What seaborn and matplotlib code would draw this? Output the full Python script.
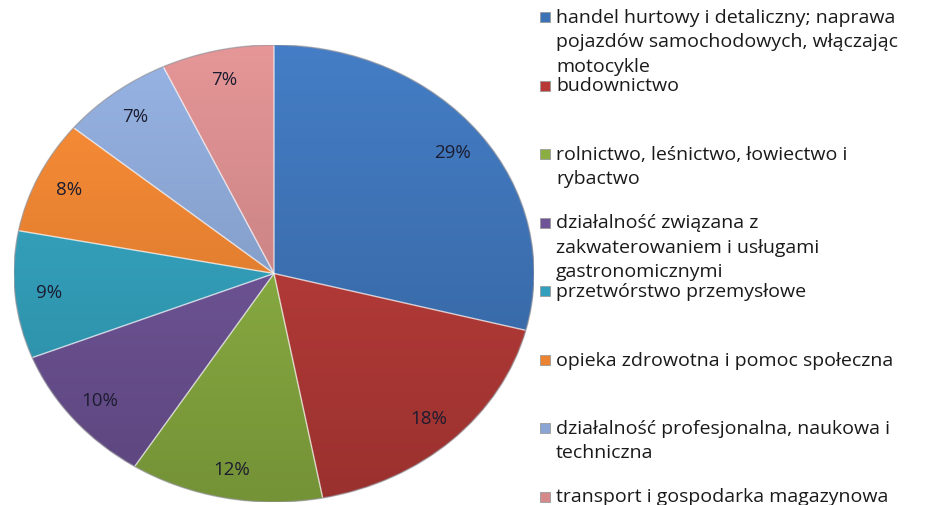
import numpy as np
import matplotlib
matplotlib.use("Agg")
import matplotlib.pyplot as plt
import seaborn as sns

# data
categories = [
    "handel hurtowy i detaliczny; naprawa\npojazdów samochodowych, włączając\nmotocykle",
    "budownictwo",
    "rolnictwo, leśnictwo, łowiectwo i\nrybactwo",
    "działalność związana z\nzakwaterowaniem i usługami\ngastronomicznymi",
    "przetwórstwo przemysłowe",
    "opieka zdrowotna i pomoc społeczna",
    "działalność profesjonalna, naukowa i\ntechniczna",
    "transport i gospodarka magazynowa",
]
shares = [29, 18, 12, 10, 9, 8, 7, 7]
pct_labels = ["29%", "18%", "12%", "10%", "9%", "8%", "7%", "7%"]
slice_colors = ["#3C72B6", "#B73A37", "#8AAE41", "#6E5396",
                "#32A0BC", "#EC8330", "#8AA5D3", "#D4898A"]

sns.set_theme(style="white")
plt.rcParams["font.family"] = ["Open Sans", "DejaVu Sans"]
palette = sns.color_palette(slice_colors)

W, H = 936, 506
fig = plt.figure(figsize=(W / 100, H / 100), dpi=100)
ax = fig.add_axes([14 / W, 3 / H, 520 / W, 457 / H])

wedges, texts = ax.pie(
    shares, labels=pct_labels, colors=palette, startangle=90,
    counterclock=False, labeldistance=0.87,
    wedgeprops=dict(edgecolor=(1, 1, 1, 0.4), linewidth=1.0),
    textprops=dict(fontsize=13.5, color="#1c1c30"),
)
for t in texts:
    t.set_ha("center")
    t.set_va("center")

# vertical light-to-dark gradient in every slice, like the Excel bevel look
ramp = np.linspace(0, 1, 256)[:, None]
for w, c in zip(wedges, palette):
    c = np.array(c)
    top = np.clip(c * 1.06 + 0.02, 0, 1)
    bottom = c * 0.84
    img = top[None, None, :] * (1 - ramp[:, :, None]) + bottom[None, None, :] * ramp[:, :, None]
    im = ax.imshow(img, extent=(-1, 1, -1, 1), origin="upper", aspect="auto",
                   zorder=w.get_zorder() - 0.1, interpolation="bilinear")
    im.set_clip_path(w)
    w.set_facecolor("none")
    w.set_zorder(w.get_zorder() + 0.5)

# thin darker rim round the whole pie
rim = plt.Circle((0, 0), 1.0, facecolor="none", edgecolor=(0.2, 0.2, 0.25, 0.35),
                 linewidth=1.0, zorder=5)
ax.add_patch(rim)

ax.set_aspect("auto")
ax.set_xlim(-1.0, 1.0)
ax.set_ylim(-1.0, 1.0)
ax.axis("off")

# legend in Excel style: evenly spaced slots on the right, one text per line
slot_top = 18
slot_step = 68.5
line_step = 24.4
for i, (lab, c) in enumerate(zip(categories, palette)):
    yc = slot_top + i * slot_step
    fig.patches.append(plt.Rectangle(
        (540 / W, 1 - (yc + 5) / H), 10 / W, 10 / H,
        transform=fig.transFigure, facecolor=c, edgecolor="#9a9a9a",
        linewidth=0.6))
    for j, line in enumerate(lab.split("\n")):
        fig.text(556 / W, 1 - (yc + j * line_step + 5) / H, line,
                 ha="left", va="baseline", fontsize=14, color="#1a1a1a")

fig.savefig("out.png", dpi=100, facecolor="white")
